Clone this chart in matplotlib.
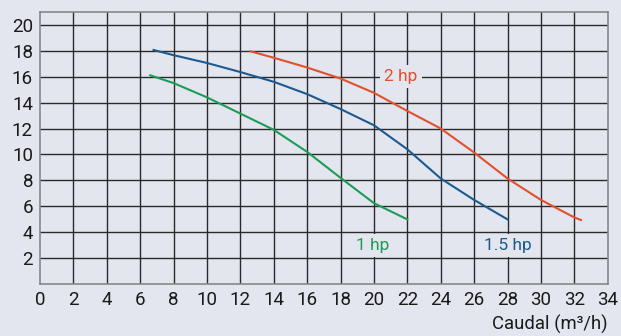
import matplotlib.pyplot as plt
import numpy as np

plt.rcParams['font.family'] = ['Roboto', 'DejaVu Sans']

# pump curves (caudal m3/h, altura m)
x_1hp = [6.6, 8, 10, 12, 14, 16, 18, 20, 22]
y_1hp = [16.1, 15.5, 14.4, 13.15, 11.9, 10.2, 8.2, 6.25, 5.0]

x_15hp = [6.8, 8, 10, 12, 14, 16, 18, 20, 22, 24, 26, 28]
y_15hp = [18.05, 17.65, 17.05, 16.35, 15.6, 14.65, 13.5, 12.25, 10.4, 8.15, 6.5, 5.0]

x_2hp = [12.6, 14, 16, 18, 20, 22, 24, 26, 28, 30, 32, 32.4]
y_2hp = [17.95, 17.45, 16.7, 15.85, 14.75, 13.35, 12.0, 10.15, 8.15, 6.5, 5.15, 4.95]

xticks = list(range(0, 35, 2))
yticks = list(range(2, 21, 2))

bg = '#e3e6ee'
green = '#1e9b56'
blue = '#1b5a8f'
red = '#e2502c'

fig = plt.figure(figsize=(6.21, 3.36), dpi=100, facecolor=bg)
ax = fig.add_axes([0.0644, 0.1539, 0.9142, 0.8113])
ax.set_facecolor(bg)

for x in xticks[1:-1]:
    ax.axvline(x, color='#2a2a2a', lw=1.0, zorder=1)
for y in yticks:
    ax.axhline(y, color='#2a2a2a', lw=1.0, zorder=1)

ax.plot(x_1hp, y_1hp, color=green, lw=1.5, zorder=3)
ax.plot(x_15hp, y_15hp, color=blue, lw=1.5, zorder=3)
ax.plot(x_2hp, y_2hp, color=red, lw=1.5, zorder=3)

box = dict(boxstyle='square,pad=0.25', fc=bg, ec='none')
ax.text(21.6, 16.0, '2 hp', color=red, fontsize=12.5, ha='center', va='center', bbox=box, zorder=4)
ax.text(19.9, 3.0, '1 hp', color=green, fontsize=12.5, ha='center', va='center', bbox=box, zorder=4)
ax.text(28.0, 3.0, '1.5 hp', color=blue, fontsize=12.5, ha='center', va='center', bbox=box, zorder=4)

ax.set_xlim(0, 34)
ax.set_ylim(0, 21)
ax.set_xticks(xticks)
ax.set_yticks(yticks)
ax.tick_params(length=0, labelsize=13.5, colors='#1a1a1a', pad=5)
for s in ax.spines.values():
    s.set_color('#888888')
    s.set_linewidth(1.2)

fig.text(0.978, 0.018, 'Caudal (m³/h)', ha='right', va='baseline', fontsize=13.3, color='#1a1a1a')

fig.savefig('out.png', dpi=100, facecolor=bg)
